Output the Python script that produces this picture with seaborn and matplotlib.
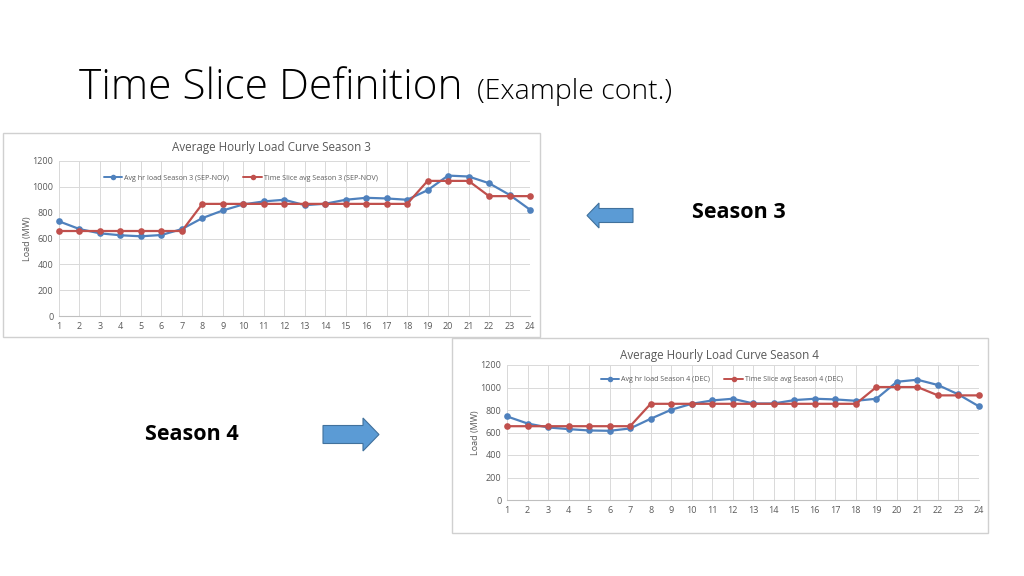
import matplotlib
matplotlib.use("Agg")
import matplotlib.pyplot as plt
import seaborn as sns
import pandas as pd
from matplotlib.patches import Rectangle, FancyArrow

hours = list(range(1, 25))
s3_avg = [733, 673, 640, 625, 617, 627, 673, 758, 817, 864, 887, 900,
          858, 869, 900, 915, 910, 900, 974, 1087, 1080, 1028, 938, 823]
s3_slice = [658, 658, 658, 658, 658, 658, 658, 868, 868, 868, 868, 868,
            868, 868, 868, 868, 868, 868, 1046, 1046, 1046, 928, 928, 928]
s4_avg = [743, 680, 645, 630, 618, 615, 636, 722, 802, 855, 885, 900,
          858, 858, 888, 900, 894, 882, 900, 1051, 1069, 1022, 938, 832]
s4_slice = [656, 656, 656, 656, 656, 656, 656, 855, 855, 855, 855, 855,
            855, 855, 855, 855, 855, 855, 1004, 1004, 1004, 930, 930, 930]

s3_labels = ["Avg hr load Season 3 (SEP-NOV)", "Time Slice avg Season 3 (SEP-NOV)"]
s4_labels = ["Avg hr load Season 4 (DEC)", "Time Slice avg Season 4 (DEC)"]
chart_titles = ["Average Hourly Load Curve Season 3", "Average Hourly Load Curve Season 4"]
y_ticks = [0, 200, 400, 600, 800, 1000, 1200]

sns.set_theme(style="white")
plt.rcParams['font.family'] = ['Liberation Sans Narrow', 'Open Sans', 'DejaVu Sans']

W, H = 1024, 576
fig = plt.figure(figsize=(W / 100, H / 100), dpi=100)
fig.patch.set_facecolor("white")

def fx(px):
    return px / W

def fy(py):
    return 1 - py / H

BLUE = "#4F81BD"
RED = "#C0504D"
GRAY = "#595959"

# Title
fig.text(fx(79), fy(99), "Time Slice Definition", fontsize=30.5, color="black",
         family=['Open Sans', 'DejaVu Sans'], fontweight='light', ha='left', va='baseline')
fig.text(fx(477), fy(99), "(Example cont.)", fontsize=20.5, color="black",
         family=['Open Sans', 'DejaVu Sans'], fontweight='light', ha='left', va='baseline')

def chart(box, plot, avg, slc, labels, title, legend_x, title_pos):
    bx0, by0, bx1, by1 = box
    fig.patches.append(Rectangle((fx(bx0), fy(by1)), fx(bx1) - fx(bx0), fy(by0) - fy(by1),
                                 transform=fig.transFigure, facecolor="white",
                                 edgecolor="#D0D0D0", linewidth=1.0, zorder=-5))
    px0, py0, px1, py1 = plot
    ax = fig.add_axes([fx(px0), fy(py1), fx(px1) - fx(px0), fy(py0) - fy(py1)])
    ax.set_zorder(2)
    df = pd.DataFrame({
        "hour": hours * 2,
        "load": avg + slc,
        "series": [labels[0]] * 24 + [labels[1]] * 24,
    })
    sns.lineplot(data=df, x="hour", y="load", hue="series", palette=[BLUE, RED],
                 marker="o", markersize=4.8, markeredgewidth=0, linewidth=1.6,
                 ax=ax, legend=False, zorder=3, clip_on=False)
    ax.set_xlim(1, 24)
    ax.set_ylim(0, 1200)
    ax.set_xticks(hours)
    ax.set_yticks(y_ticks)
    ax.tick_params(axis='both', labelsize=6.5, colors=GRAY, length=0, pad=4)
    ax.grid(True, color="#D9D9D9", linewidth=0.7)
    ax.set_axisbelow(True)
    for s in ["top", "right"]:
        ax.spines[s].set_visible(False)
    ax.spines["left"].set_color("#D9D9D9")
    ax.spines["bottom"].set_color("#BFBFBF")
    ax.spines["left"].set_linewidth(0.7)
    ax.spines["bottom"].set_linewidth(0.8)
    ax.set_xlabel("")
    ax.set_ylabel("Load (MW)", fontsize=6.5, color=GRAY, labelpad=0)
    ax.set_facecolor("none")
    fig.text(fx(title_pos[0]), fy(title_pos[1]), title, fontsize=8.4, color=GRAY,
             ha='center', va='center')
    handles = [plt.Line2D([], [], color=BLUE, marker="o", markersize=4, markeredgewidth=0, lw=1.4),
               plt.Line2D([], [], color=RED, marker="o", markersize=4, markeredgewidth=0, lw=1.4)]
    ax.legend(handles, labels, loc="center", bbox_to_anchor=(legend_x, 0.89), ncol=2,
              frameon=False, fontsize=5.1, handlelength=2.6, columnspacing=2.0,
              handletextpad=0.3, labelcolor=GRAY)
    return ax

chart((3, 133, 540, 337), (59, 161, 530, 316), s3_avg, s3_slice, s3_labels, chart_titles[0], 0.386, (271, 148))
chart((452, 338, 988, 533), (507, 365, 979, 500), s4_avg, s4_slice, s4_labels, chart_titles[1], 0.455, (720, 356))

# Season labels
fig.text(fx(738.5), fy(212), "Season 3", fontsize=15.5, fontweight='bold', color="black",
         family=['Open Sans', 'DejaVu Sans'], ha='center', va='center')
fig.text(fx(191.5), fy(434), "Season 4", fontsize=15.5, fontweight='bold', color="black",
         family=['Open Sans', 'DejaVu Sans'], ha='center', va='center')

# Arrows
def arrow(x0, y, x1, half_w, head_w, head_len):
    fig.patches.append(FancyArrow(fx(x0), fy(y), fx(x1) - fx(x0), 0,
                                  width=half_w * 2 / H, head_width=head_w * 2 / H,
                                  head_length=abs(fx(head_len)), length_includes_head=True,
                                  transform=fig.transFigure, facecolor="#5B9BD5",
                                  edgecolor="#41719C", linewidth=0.8))

arrow(633, 215.5, 587, 7, 12.5, 12)
arrow(323, 434.5, 379, 9, 16.5, 16)

fig.savefig("out.png", dpi=100, facecolor="white")
